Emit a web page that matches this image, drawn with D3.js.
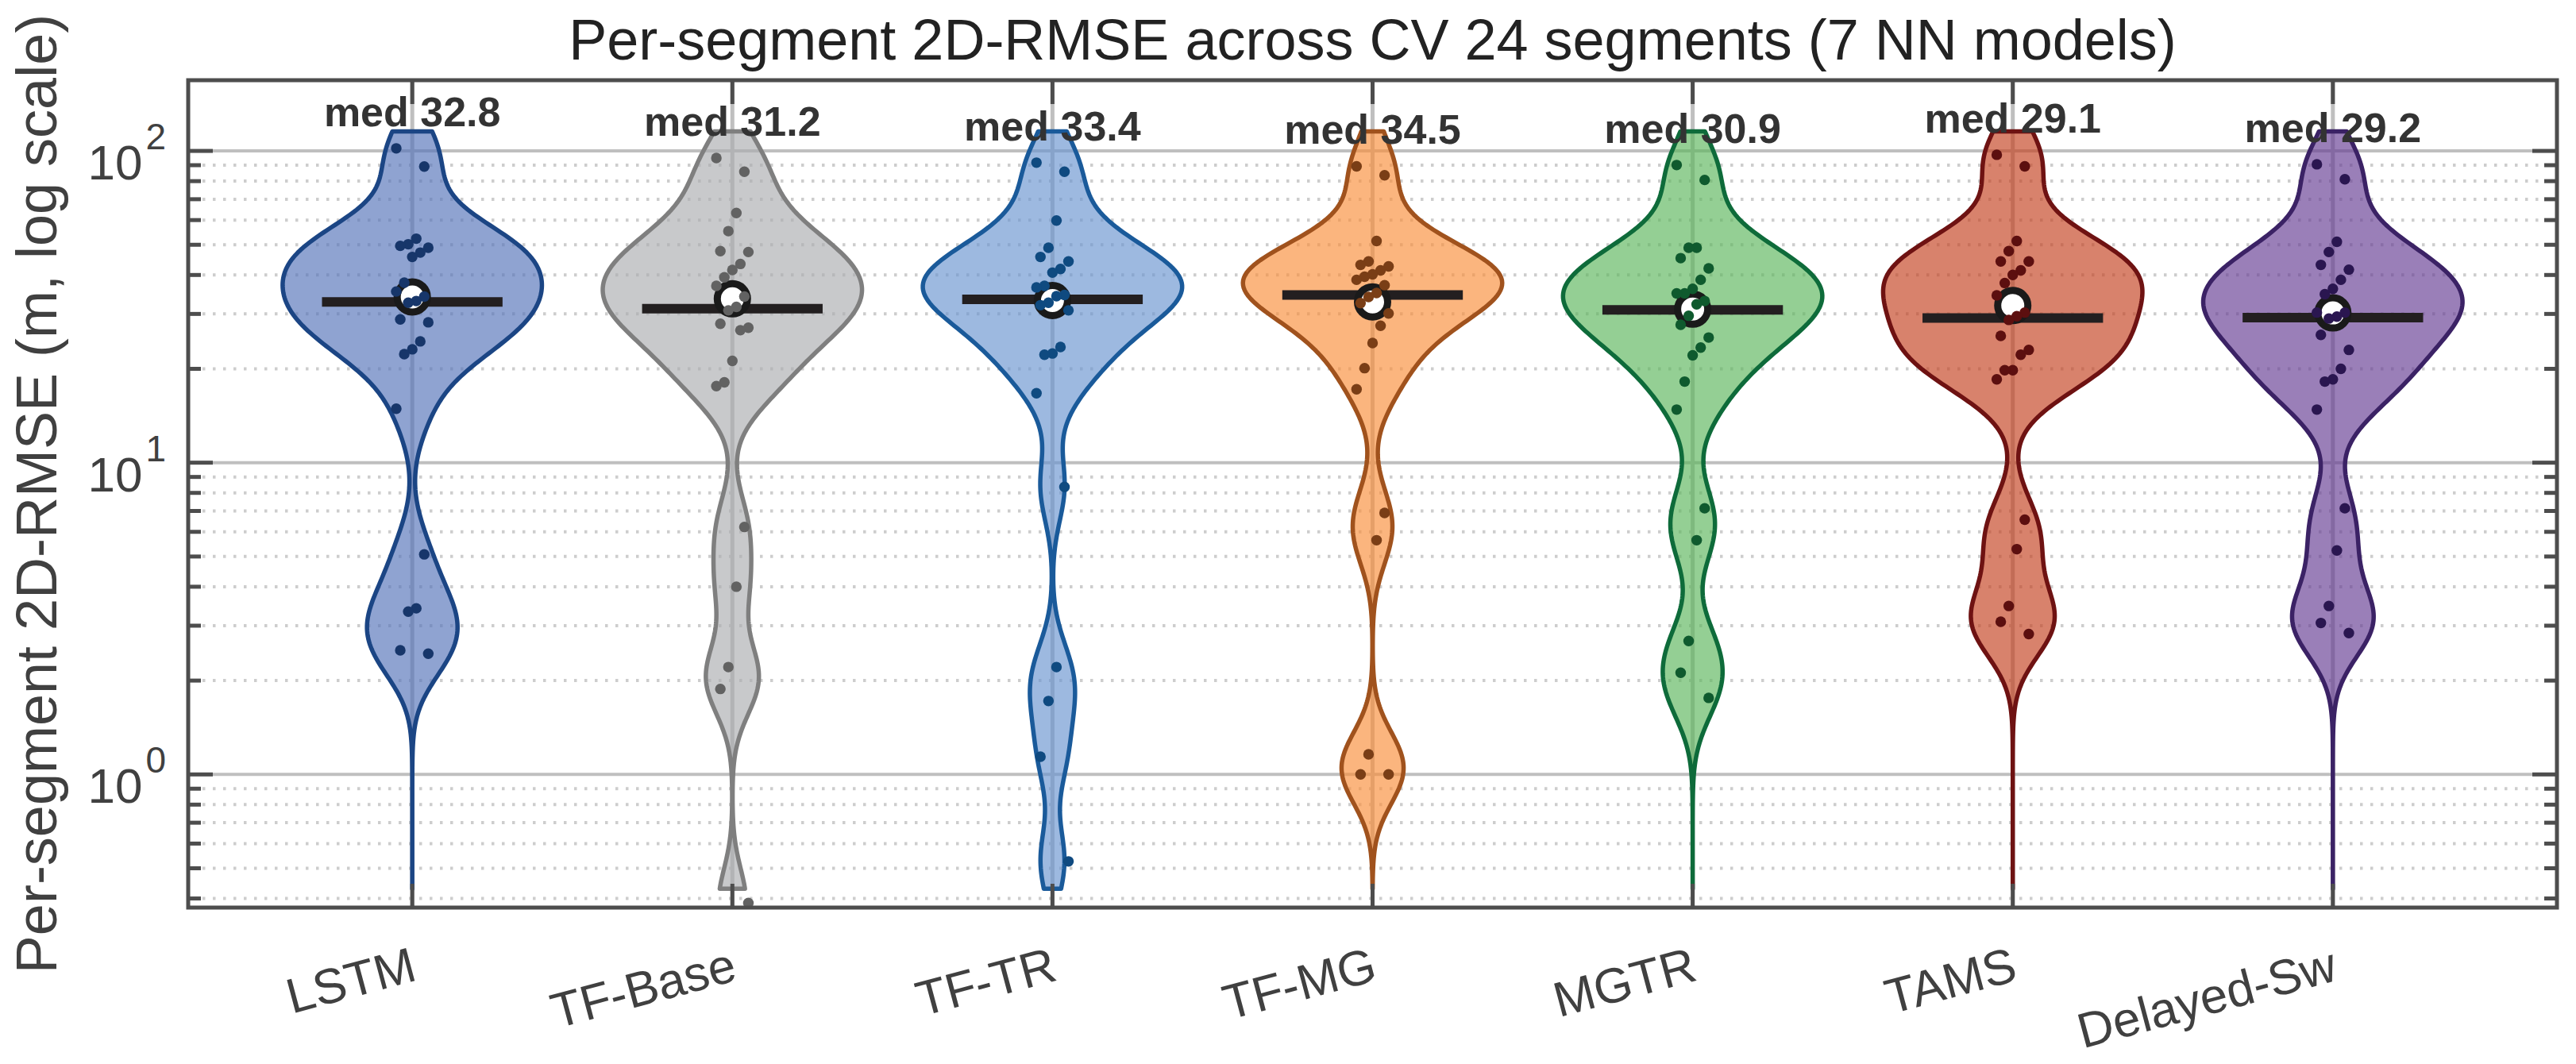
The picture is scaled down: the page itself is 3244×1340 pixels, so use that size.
<!DOCTYPE html>
<html>
<head>
<meta charset="utf-8">
<script src="https://cdn.jsdelivr.net/npm/d3@7/dist/d3.min.js"></script>
<style>
body{margin:0;background:#fff;}
svg{display:block;}
</style>
</head>
<body>
<script>
// models (x categories)
var models = ["LSTM","TF-Base","TF-TR","TF-MG","MGTR","TAMS","Delayed-Sw"];

// per-segment 2D-RMSE (m), 24 CV segments each
var lstm     = [101.9,89.1,52.3,50.2,49.6,48.9,47.2,45.7,37.8,35.4,34.1,33.0,32.6,28.8,28.2,24.5,23.1,22.3,14.9,5.08,3.41,3.33,2.50,2.44];
var tfBase   = [94.9,85.8,63.2,55.3,47.7,47.4,43.4,41.5,39.3,36.9,34.1,31.6,30.8,27.9,27.1,26.6,21.2,18.1,17.6,6.22,4.0,2.21,1.88,0.387];
var tfTR     = [91.7,85.8,59.8,48.9,45.7,44.2,41.8,40.7,36.9,36.5,34.5,34.2,32.6,32.0,30.8,23.5,22.4,22.2,16.7,8.36,2.21,1.72,1.14,0.526];
var tfMG     = [89.2,83.5,51.4,44.2,43.1,42.6,41.4,40.2,39.5,38.6,37.1,35.0,34.0,32.5,30.1,27.5,24.2,20.1,17.2,6.90,5.64,1.16,1.0,1.0];
var mgtr     = [90.1,80.7,48.9,48.9,45.3,42.0,38.6,36.1,34.9,34.9,33.0,32.2,29.6,27.7,25.2,23.4,22.1,18.2,14.8,7.14,5.64,2.68,2.12,1.76];
var tams     = [97.2,89.2,51.4,47.7,44.2,44.2,41.4,40.0,37.7,34.4,30.3,29.5,28.7,25.5,23.0,22.2,19.8,19.8,18.5,6.56,5.28,3.47,3.09,2.82];
var delayed  = [90.6,81.1,51.1,47.4,43.1,41.6,38.6,36.1,34.7,30.3,30.3,29.4,29.0,25.7,23.0,20.0,18.5,18.2,14.8,7.14,5.23,3.47,3.06,2.84];
var series = [lstm,tfBase,tfTR,tfMG,mgtr,tams,delayed];

// major y ticks
var yMajor = [1,10,100];

// colours: apparent fill, outline, dots
var fillColors = ["#8fa3d1","#c8c9cb","#9db9e0","#fbb57e","#94cf94","#d8826c","#9a7fb8"];
var lineColors = ["#1b4584","#7f7f7f","#1a5a9a","#a0521d","#0e6b3a","#6e1212","#3b2265"];
var dotColors  = ["#17366a","#626262","#0f4a80","#7a3e16","#0f5a2e","#5c0f0f","#2a1650"];

var width = 3244, height = 1340;
var plotL = 237, plotR = 3220, plotT = 101, plotB = 1143;
var font = "'Liberation Sans', Arial, Helvetica, sans-serif";
var axisCol = "#4d4d4d", textCol = "#404040";

var svg = d3.select("body").append("svg").attr("width", width).attr("height", height);

var xScale = d3.scaleLinear().domain([0.3, 7.7]).range([plotL, plotR]);
var yScale = d3.scaleLog().domain([0.374, 168.6]).range([plotB, plotT]);
var unit = xScale(1) - xScale(0);

// fill with alpha so grid shows through
var alpha = 0.65;
function baseColor(c){
  var r = d3.rgb(c);
  var f = function(v){ return Math.max(0, Math.min(255, (v - 255*(1-alpha))/alpha)); };
  return d3.rgb(f(r.r), f(r.g), f(r.b)).formatHex();
}

// grid
var minor = yScale.ticks().filter(function(d){ return yMajor.indexOf(d) < 0; });
var grid = svg.append("g");
grid.selectAll(".mn").data(minor).enter().append("line")
  .attr("x1", plotL + 18).attr("x2", plotR)
  .attr("y1", function(d){ return yScale(d); }).attr("y2", function(d){ return yScale(d); })
  .attr("stroke", "#cdcdcd").attr("stroke-width", 4).attr("stroke-dasharray", "3.5,9.5");
grid.selectAll(".mj").data(yMajor).enter().append("line")
  .attr("x1", plotL).attr("x2", plotR)
  .attr("y1", function(d){ return yScale(d); }).attr("y2", function(d){ return yScale(d); })
  .attr("stroke", "#bfbfbf").attr("stroke-width", 4);
grid.selectAll(".vx").data(models).enter().append("line")
  .attr("x1", function(d,i){ return xScale(i+1); }).attr("x2", function(d,i){ return xScale(i+1); })
  .attr("y1", plotT).attr("y2", plotB)
  .attr("stroke", "#bfbfbf").attr("stroke-width", 5);

// violins: gaussian kde on log10 values
var lo = Math.log10(0.43), hi = Math.log10(115.5), nGrid = 300, bw = 0.11;
var gridPts = d3.range(nGrid + 1).map(function(i){ return lo + (hi - lo) * i / nGrid; });
var halfMax = 0.405 * unit;

var area = d3.area()
  .y(function(d){ return yScale(Math.pow(10, d.g)); })
  .x0(function(d){ return d.cx - d.w; })
  .x1(function(d){ return d.cx + d.w; });

series.forEach(function(vals, i){
  var cx = xScale(i + 1);
  var lv = vals.map(Math.log10);
  var dens = gridPts.map(function(g){
    return d3.sum(lv, function(v){ var z = (g - v) / bw; return Math.exp(-0.5 * z * z); });
  });
  var dmax = d3.max(dens);
  var pts = gridPts.map(function(g, k){ return {g: g, cx: cx, w: halfMax * dens[k] / dmax}; });

  var vg = svg.append("g");
  vg.append("path").datum(pts).attr("d", area)
    .attr("fill", baseColor(fillColors[i])).attr("fill-opacity", alpha)
    .attr("stroke", lineColors[i]).attr("stroke-width", 5.5).attr("stroke-linejoin", "round");

  var med = d3.median(vals), mean = d3.mean(vals);
  vg.append("line")
    .attr("x1", xScale(i + 1 - 0.282)).attr("x2", xScale(i + 1 + 0.282))
    .attr("y1", yScale(med)).attr("y2", yScale(med))
    .attr("stroke", "#231f20").attr("stroke-width", 12);
  vg.append("circle").attr("cx", cx).attr("cy", yScale(mean)).attr("r", 19)
    .attr("fill", "#fff").attr("stroke", "#1a1a1a").attr("stroke-width", 9);

  vg.selectAll(".dot").data(vals).enter().append("circle")
    .attr("cx", function(d, k){ return xScale(i + 1 + (((k * 7) % 9) - 4) / 4 * 0.05); })
    .attr("cy", function(d){ return yScale(d); })
    .attr("r", 6.7).attr("fill", dotColors[i]);

  svg.append("text").attr("x", cx).attr("y", yScale(d3.max(vals) * 1.18))
    .attr("text-anchor", "middle").attr("font-family", font).attr("font-weight", "bold")
    .attr("font-size", 52).attr("fill", "#333")
    .text("med " + d3.format(".1f")(med));
});

// axes: ticks inside on all four sides
var tickG = svg.append("g").attr("stroke", axisCol).attr("stroke-width", 5);
function yTicks(x0, dir){
  tickG.selectAll(null).data(yMajor).enter().append("line")
    .attr("x1", x0).attr("x2", x0 + dir * 31)
    .attr("y1", function(d){ return yScale(d); }).attr("y2", function(d){ return yScale(d); });
  tickG.selectAll(null).data(minor).enter().append("line")
    .attr("x1", x0).attr("x2", x0 + dir * 16)
    .attr("y1", function(d){ return yScale(d); }).attr("y2", function(d){ return yScale(d); });
}
yTicks(plotL, 1);
yTicks(plotR, -1);
[plotT, plotB].forEach(function(y0){
  var dir = y0 === plotT ? 1 : -1;
  tickG.selectAll(null).data(models).enter().append("line")
    .attr("x1", function(d,i){ return xScale(i+1); }).attr("x2", function(d,i){ return xScale(i+1); })
    .attr("y1", y0).attr("y2", y0 + dir * 30);
});

svg.append("rect").attr("x", plotL).attr("y", plotT)
  .attr("width", plotR - plotL).attr("height", plotB - plotT)
  .attr("fill", "none").attr("stroke", axisCol).attr("stroke-width", 5);

// y tick labels 10^n
var yl = svg.selectAll(".yl").data(yMajor).enter().append("text")
  .attr("x", plotL - 28).attr("y", function(d){ return yScale(d) + 36; })
  .attr("text-anchor", "end").attr("font-family", font).attr("fill", textCol);
yl.append("tspan").attr("font-size", 62).text("10");
yl.append("tspan").attr("font-size", 46).attr("dx", 4).attr("dy", -38)
  .text(function(d){ return Math.round(Math.log10(d)); });

// x tick labels, rotated
svg.selectAll(".xl").data(models).enter().append("text")
  .attr("transform", function(d,i){ return "translate(" + (xScale(i+1) + 8) + "," + (plotB + 91) + ") rotate(-15)"; })
  .attr("text-anchor", "end").attr("font-family", font).attr("font-size", 62).attr("fill", textCol)
  .text(function(d){ return d; });

// y axis title
svg.append("text")
  .attr("transform", "translate(71," + ((plotT + plotB) / 2) + ") rotate(-90)")
  .attr("text-anchor", "middle").attr("font-family", font).attr("font-size", 72).attr("fill", textCol)
  .text("Per-segment 2D-RMSE (m, log scale)");

// title
svg.append("text").attr("x", (plotL + plotR) / 2).attr("y", 75)
  .attr("text-anchor", "middle").attr("font-family", font).attr("font-size", 72).attr("fill", "#222")
  .text("Per-segment 2D-RMSE across CV 24 segments (7 NN models)");
</script>
</body>
</html>
